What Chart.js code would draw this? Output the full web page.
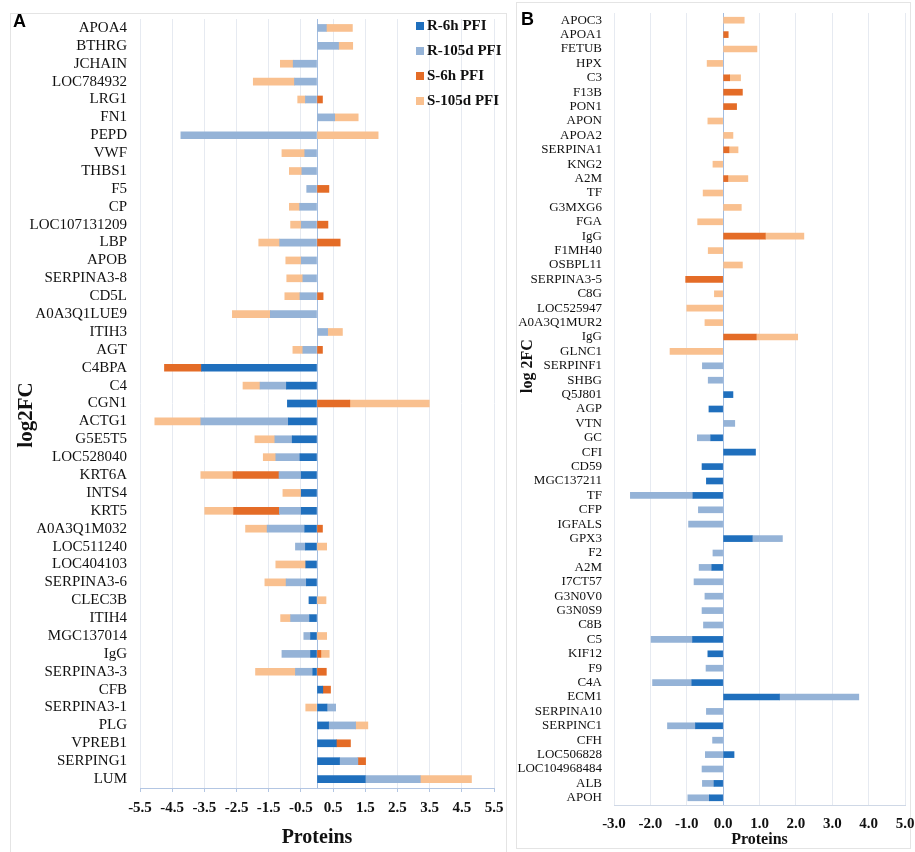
<!DOCTYPE html>
<html>
<head>
<meta charset="utf-8">
<title>Protein log2FC</title>
<script src="https://cdn.jsdelivr.net/npm/chart.js@4.4.1/dist/chart.umd.min.js"></script>
<style>
  body { margin: 0; width: 915px; height: 852px; position: relative; overflow: hidden; background: #fff; }
  .panel { position: absolute; border: 1px solid #e4e4e4; box-sizing: border-box; }
  canvas { position: absolute; top: 0; }
  .letter { position: absolute; font: bold 18px 'Liberation Sans', Arial, sans-serif; line-height: 1; color: #000; }
  .ytitle { position: absolute; font-family: 'Liberation Serif', 'Times New Roman', serif; font-weight: bold; color: #111;
            white-space: nowrap; transform: translate(-50%, -50%) rotate(-90deg); line-height: 1; }
  #legendA { position: absolute; left: 416px; top: 13px; font: bold 15px 'Liberation Serif', 'Times New Roman', serif; color: #111; }
  #legendA div { height: 25px; display: flex; align-items: center; white-space: nowrap; }
  #legendA span.box { width: 8px; height: 8px; margin-right: 3px; display: inline-block; }
</style>
</head>
<body>
<div class="panel" style="left:10px; top:13px; width:497px; height:850px;"></div>
<div class="panel" style="left:516px; top:2px; width:395px; height:847px;"></div>
<canvas id="chartA" width="510" height="852" style="left:0;"></canvas>
<canvas id="chartB" width="405" height="852" style="left:510px;"></canvas>
<div class="letter" style="left:13px; top:12px;">A</div>
<div class="letter" style="left:521px; top:10px;">B</div>
<div class="ytitle" style="left:25px; top:415px; font-size:21px;">log2FC</div>
<div class="ytitle" style="left:527px; top:366px; font-size:16px;">log 2FC</div>
<div id="legendA"></div>

<script>
// series shared by both panels
const seriesNames = ['R-6h PFI', 'R-105d PFI', 'S-6h PFI', 'S-105d PFI'];
const seriesColors = ['#1f6fbd', '#95b3d7', '#e46c27', '#f9c08f'];

// ---- panel A ----
const labelsA = ['APOA4', 'BTHRG', 'JCHAIN', 'LOC784932', 'LRG1', 'FN1', 'PEPD', 'VWF', 'THBS1', 'F5',
  'CP', 'LOC107131209', 'LBP', 'APOB', 'SERPINA3-8', 'CD5L', 'A0A3Q1LUE9', 'ITIH3', 'AGT', 'C4BPA',
  'C4', 'CGN1', 'ACTG1', 'G5E5T5', 'LOC528040', 'KRT6A', 'INTS4', 'KRT5', 'A0A3Q1M032', 'LOC511240',
  'LOC404103', 'SERPINA3-6', 'CLEC3B', 'ITIH4', 'MGC137014', 'IgG', 'SERPINA3-3', 'CFB', 'SERPINA3-1', 'PLG',
  'VPREB1', 'SERPING1', 'LUM'];
const r6hA = [null, null, null, null, null, null, null, null, null, null,
  null, null, null, null, null, null, null, null, null, -3.59,
  -0.95, -0.92, -0.89, -0.77, -0.53, -0.49, -0.49, -0.49, -0.38, -0.36,
  -0.35, -0.33, -0.25, -0.23, -0.20, -0.20, -0.13, 0.18, 0.31, 0.36,
  0.60, 0.70, 1.50];
const r105dA = [0.29, 0.67, -0.74, -0.70, -0.36, 0.55, -4.23, -0.38, -0.47, -0.32,
  -0.54, -0.49, -1.16, -0.49, -0.44, -0.53, -1.45, 0.33, -0.44, null,
  -0.82, null, -2.72, -0.54, -0.75, -0.69, null, -0.68, -1.17, -0.31,
  null, -0.63, null, -0.59, -0.21, -0.89, -0.54, null, 0.27, 0.84,
  null, 0.57, 1.71];
const s6hA = [null, null, null, null, 0.17, null, null, null, null, 0.37,
  null, 0.34, 0.72, null, null, 0.19, null, null, 0.17, -1.15,
  null, 1.02, null, null, null, -1.43, null, -1.42, 0.17, null,
  null, null, null, null, null, 0.12, 0.29, 0.24, null, null,
  0.44, 0.24, null];
const s105dA = [0.81, 0.44, -0.40, -1.28, -0.24, 0.73, 1.90, -0.71, -0.39, null,
  -0.32, -0.33, -0.65, -0.48, -0.50, -0.47, -1.18, 0.46, -0.31, null,
  -0.53, 2.47, -1.43, -0.62, -0.39, -1.00, -0.57, -0.90, -0.67, 0.30,
  -0.93, -0.66, 0.28, -0.31, 0.30, 0.26, -1.24, null, -0.35, 0.38,
  null, null, 1.59];

// ---- panel B ----
const labelsB = ['APOC3', 'APOA1', 'FETUB', 'HPX', 'C3', 'F13B', 'PON1', 'APON', 'APOA2', 'SERPINA1',
  'KNG2', 'A2M', 'TF', 'G3MXG6', 'FGA', 'IgG', 'F1MH40', 'OSBPL11', 'SERPINA3-5', 'C8G',
  'LOC525947', 'A0A3Q1MUR2', 'IgG', 'GLNC1', 'SERPINF1', 'SHBG', 'Q5J801', 'AGP', 'VTN', 'GC',
  'CFI', 'CD59', 'MGC137211', 'TF', 'CFP', 'IGFALS', 'GPX3', 'F2', 'A2M', 'I7CT57',
  'G3N0V0', 'G3N0S9', 'C8B', 'C5', 'KIF12', 'F9', 'C4A', 'ECM1', 'SERPINA10', 'SERPINC1',
  'CFH', 'LOC506828', 'LOC104968484', 'ALB', 'APOH'];
const r6hB = [null, null, null, null, null, null, null, null, null, null,
  null, null, null, null, null, null, null, null, null, null,
  null, null, null, null, null, null, 0.27, -0.39, null, -0.34,
  0.89, -0.58, -0.46, -0.83, null, null, 0.80, null, -0.31, null,
  null, null, null, -0.84, -0.42, null, -0.86, 1.55, null, -0.76,
  null, 0.30, null, -0.25, -0.38];
const r105dB = [null, null, null, null, null, null, null, null, null, null,
  null, null, null, null, null, null, null, null, null, null,
  null, null, null, null, -0.57, -0.41, null, null, 0.32, -0.37,
  null, null, null, -1.72, -0.68, -0.95, 0.83, -0.28, -0.35, -0.80,
  -0.50, -0.58, -0.54, -1.14, null, -0.47, -1.08, 2.18, -0.46, -0.77,
  -0.29, -0.49, -0.58, -0.32, -0.59];
const s6hB = [null, 0.14, null, null, 0.18, 0.53, 0.37, null, null, 0.16,
  null, 0.13, null, null, null, 1.16, null, null, -1.03, null,
  null, null, 0.91, null, null, null, null, null, null, null,
  null, null, null, null, null, null, null, null, null, null,
  null, null, null, null, null, null, null, null, null, null,
  null, null, null, null, null];
const s105dB = [0.58, null, 0.93, -0.44, 0.30, null, null, -0.42, 0.27, 0.25,
  -0.28, 0.55, -0.55, 0.50, -0.70, 1.06, -0.41, 0.53, null, -0.24,
  -1.00, -0.50, 1.14, -1.46, null, null, null, null, null, null,
  null, null, null, null, null, null, null, null, null, null,
  null, null, null, null, null, null, null, null, null, null,
  null, null, null, null, null];

const serif = "'Liberation Serif', 'Times New Roman', serif";
const gridGrey = '#e6eaf1';
const zeroBlue = '#a3bde0';

function makeDatasets(series, thickness) {
  return series.map((d, i) => ({
    label: seriesNames[i],
    data: d,
    backgroundColor: seriesColors[i],
    borderWidth: 0,
    barThickness: thickness
  }));
}

// panel A: ticks every 0.5, only the x.5 ones labelled, 0 drawn as the blue axis line
const isHalf = v => Math.abs(Math.round(v * 2)) % 2 === 1;

new Chart(document.getElementById('chartA'), {
  type: 'bar',
  data: { labels: labelsA, datasets: makeDatasets([r6hA, r105dA, s6hA, s105dA], 7) },
  options: {
    indexAxis: 'y',
    responsive: false,
    animation: false,
    devicePixelRatio: 1,
    layout: { padding: { top: 19, right: 16, bottom: 0, left: 0 } },
    plugins: { legend: { display: false }, tooltip: { enabled: false } },
    scales: {
      x: {
        type: 'linear', stacked: true, min: -5.5, max: 5.5,
        ticks: {
          stepSize: 0.5, autoSkip: false, maxRotation: 0, padding: 7, color: '#111',
          font: { family: serif, size: 15, weight: 'bold' },
          callback: v => isHalf(v) ? v.toFixed(1) : ''
        },
        grid: {
          tickLength: 4,
          color: c => c.tick.value === 0 ? zeroBlue : (isHalf(c.tick.value) ? gridGrey : 'rgba(0,0,0,0)'),
          tickColor: c => isHalf(c.tick.value) ? '#b3c6e3' : 'rgba(0,0,0,0)'
        },
        border: { color: '#b3c6e3' },
        title: { display: true, text: 'Proteins', color: '#111', font: { family: serif, size: 20, weight: 'bold' }, padding: { top: 0, bottom: 2 } },
        afterFit: s => { s.height = 64; s.paddingLeft = 0; s.paddingRight = 0; }
      },
      y: {
        stacked: true,
        grid: { display: false, drawTicks: false },
        border: { display: false },
        ticks: { autoSkip: false, padding: 13, color: '#111', font: { family: serif, size: 15 } },
        afterFit: s => { s.width = 140; s.paddingTop = 0; s.paddingBottom = 0; }
      }
    }
  }
});

new Chart(document.getElementById('chartB'), {
  type: 'bar',
  data: { labels: labelsB, datasets: makeDatasets([r6hB, r105dB, s6hB, s105dB], 6) },
  options: {
    indexAxis: 'y',
    responsive: false,
    animation: false,
    devicePixelRatio: 1,
    layout: { padding: { top: 13, right: 10, bottom: 0, left: 0 } },
    plugins: { legend: { display: false }, tooltip: { enabled: false } },
    scales: {
      x: {
        type: 'linear', stacked: true, min: -3, max: 5,
        ticks: {
          stepSize: 1, autoSkip: false, maxRotation: 0, padding: 10, color: '#111',
          font: { family: serif, size: 15, weight: 'bold' },
          callback: v => v.toFixed(1)
        },
        grid: { drawTicks: false, color: c => c.tick.value === 0 ? zeroBlue : gridGrey },
        border: { color: '#cfd8e6' },
        title: { display: true, text: 'Proteins', color: '#111', font: { family: serif, size: 16, weight: 'bold' }, padding: { top: 0, bottom: 3 } },
        afterFit: s => { s.height = 47; s.paddingLeft = 0; s.paddingRight = 0; }
      },
      y: {
        stacked: true,
        grid: { display: false, drawTicks: false },
        border: { display: false },
        ticks: { autoSkip: false, padding: 12, color: '#111', font: { family: serif, size: 13 } },
        afterFit: s => { s.width = 104; s.paddingTop = 0; s.paddingBottom = 0; }
      }
    }
  }
});

// legend for panel A, drawn from the series names and colours
const legendA = document.getElementById('legendA');
seriesNames.forEach((name, i) => {
  const row = document.createElement('div');
  const box = document.createElement('span');
  box.className = 'box';
  box.style.background = seriesColors[i];
  row.appendChild(box);
  row.appendChild(document.createTextNode(name));
  legendA.appendChild(row);
});
</script>
</body>
</html>
